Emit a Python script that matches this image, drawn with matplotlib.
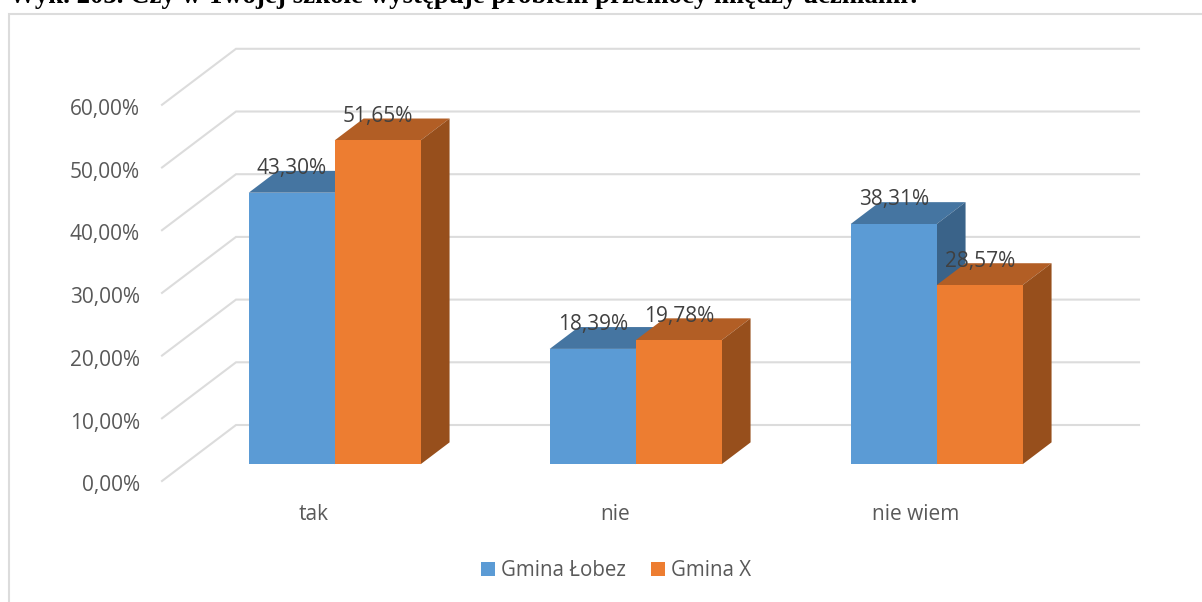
import matplotlib
matplotlib.use("Agg")
import matplotlib.pyplot as plt
from matplotlib.patches import Polygon, Rectangle

categories = ["tak", "nie", "nie wiem"]
lobez = [43.30, 18.39, 38.31]
gmina_x = [51.65, 19.78, 28.57]
ticks = [0, 10, 20, 30, 40, 50, 60]
tick_labels = ["0,00%", "10,00%", "20,00%", "30,00%", "40,00%", "50,00%", "60,00%"]
series_names = ["Gmina Łobez", "Gmina X"]

W, H = 1202, 602
BLUE = ("#5b9bd5", "#4575a1", "#3a6389")
ORANGE = ("#ed7d31", "#b25e25", "#974f1c")
GRID = "#dcdcdc"
FS = 15

# depth of the fake 3d floor, in data units
DX = 74 / 301
DY = 56 / 6.27
BW = 86 / 301
OFF = 0.3

plt.rcParams["font.family"] = ["Open Sans", "DejaVu Sans"]
fig = plt.figure(figsize=(W / 100, H / 100), dpi=100)
ax = fig.add_axes([162 / W, 1 - 481 / H, (1139 - 162) / W, (481 - 49) / H])
ax.set_xlim(-0.5, -0.5 + (1139 - 162) / 301)
ax.set_ylim(0, (481 - 49) / 6.27)
ax.axis("off")

for t, lab in zip(ticks, tick_labels):
    ax.plot([-0.5, -0.5 + DX, 2.5 + DX], [t, t + DY, t + DY], color=GRID, lw=1.5, zorder=1,
            clip_on=False, solid_joinstyle="miter")
    ax.text(-0.573, t - 0.75, lab, ha="right", va="center", fontsize=FS, color="#595959")


def bar3d(x, v, cols, z):
    x0 = x + OFF * DX
    y0 = OFF * DY
    dx = 0.39 * DX
    dy = 0.39 * DY
    ax.bar(x0 + BW / 2, v, BW, bottom=y0, color=cols[0], zorder=z + 0.2)
    ax.add_patch(Polygon([(x0, y0 + v), (x0 + BW, y0 + v), (x0 + BW + dx, y0 + v + dy), (x0 + dx, y0 + v + dy)],
                         color=cols[1], lw=0, zorder=z))
    ax.add_patch(Polygon([(x0 + BW, y0), (x0 + BW + dx, y0 + dy), (x0 + BW + dx, y0 + v + dy), (x0 + BW, y0 + v)],
                         color=cols[2], lw=0, zorder=z))


def val_label(x, v):
    # sits about 24 px over the front top edge
    ax.text(x + OFF * DX, OFF * DY + v + 24 / 6.27, f"{v:.2f}%".replace(".", ","), ha="center", va="center",
            fontsize=FS, color="#404040", zorder=6)


for i in range(3):
    bar3d(i - BW, lobez[i], BLUE, 3)
    bar3d(i, gmina_x[i], ORANGE, 4)
    val_label(i - BW / 2, lobez[i])
    val_label(i + BW / 2, gmina_x[i])
    ax.text(i + OFF * DX - 0.07, -5.4, categories[i], ha="center", va="center", fontsize=FS, color="#595959")

# chart frame and legend
fig.add_artist(Rectangle((9 / W, -0.1), 1.1, 1.1 - 14 / H, fill=False, ec=GRID, lw=1.5))
for px, col, name in zip([481, 651], [BLUE[0], ORANGE[0]], series_names):
    fig.add_artist(Rectangle((px / W, 1 - 576 / H), 14 / W, 14 / H, color=col, lw=0))
    fig.text((px + 20) / W, 1 - 571 / H, name, ha="left", va="center", fontsize=14.8, color="#595959")

fig.text(9 / W, 1 - 3 / H, "Wyk. 203. Czy w Twojej szkole występuje problem przemocy między uczniami?",
         family="Liberation Serif", fontweight="bold", fontsize=19.35, color="black", ha="left", va="baseline")

fig.savefig("out.png", dpi=100)
